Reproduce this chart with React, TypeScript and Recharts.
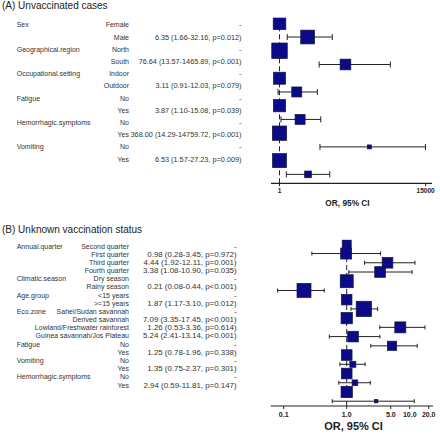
import { ScatterChart, Scatter, XAxis, YAxis, ZAxis, ErrorBar, ReferenceLine } from 'recharts'

// (A) Unvaccinated cases
const aGroups = ['Sex', '', 'Geographical.region', '', 'Occupational.setting', '', 'Fatigue', '', 'Hemorrhagic.symptoms', '', 'Vomiting', '']
const aLevels = ['Female', 'Male', 'North', 'South', 'Indoor', 'Outdoor', 'No', 'Yes', 'No', 'Yes', 'No', 'Yes']
const aOR = [1, 6.35, 1, 76.64, 1, 3.11, 1, 3.87, 1, 368.0, 1, 6.53]
const aLo = [null, 1.66, null, 13.57, null, 0.91, null, 1.1, null, 14.29, null, 1.57]
const aHi = [null, 32.16, null, 1465.89, null, 12.03, null, 15.08, null, 14759.72, null, 27.23]
const aP = [null, '0.012', null, '<0.001', null, '0.079', null, '0.039', null, '<0.001', null, '0.009']
const aWeight = [160, 190, 240, 115, 144, 100, 150, 100, 205, 16, 196, 45]
const aTicks = [1, 15000]

// (B) Unknown vaccination status
const bGroups = ['Annual.quarter', '', '', '', 'Climatic.season', '', 'Age.group', '', 'Eco.zone', '', '', '', 'Fatigue', '', 'Vomiting', '', 'Hemorrhagic.symptoms', '']
const bLevels = ['Second quarter', 'First quarter', 'Third quarter', 'Fourth quarter', 'Dry season', 'Rainy season', '<15 years', '>=15 years',
  'Sahel/Sudan savannah', 'Derived savannah', 'Lowland/Freshwater rainforest', 'Guinea savannah/Jos Plateau', 'No', 'Yes', 'No', 'Yes', 'No', 'Yes']
const bOR = [1, 0.98, 4.44, 3.38, 1, 0.21, 1, 1.87, 1, 7.09, 1.26, 5.24, 1, 1.25, 1, 1.35, 1, 2.94]
const bLo = [null, 0.28, 1.92, 1.08, null, 0.08, null, 1.17, null, 3.35, 0.53, 2.41, null, 0.78, null, 0.75, null, 0.59]
const bHi = [null, 3.45, 12.11, 10.9, null, 0.44, null, 3.1, null, 17.45, 3.36, 13.14, null, 1.96, null, 2.37, null, 11.81]
const bP = [null, '0.972', '0.001', '0.035', null, '<0.001', null, '0.012', null, '<0.001', '0.614', '<0.001', null, '0.338', null, '0.301', null, '0.147']
const bWeight = [81, 121, 114, 114, 169, 196, 110, 234, 128, 121, 114, 86, 114, 36, 114, 32, 128, 11]
const bTicks = [0.1, 1, 5, 10, 20]

const FONT = '"Liberation Sans", Arial, sans-serif'
const INK = '#222'
const TXT = '#333'

function buildRows(or: number[], lo: (number | null)[], hi: (number | null)[], w: number[]) {
  return or.map((v, i) => ({
    row: i,
    or: v,
    err: lo[i] == null ? null : [v - (lo[i] as number), (hi[i] as number) - v],
    w: w[i],
  }))
}

function fmtCell(or: number, lo: number | null, hi: number | null, p: string | null) {
  if (lo == null || hi == null || p == null) return '-'
  const pTxt = p.startsWith('<') ? `p${p}` : `p=${p}`
  return `${or.toFixed(2)} (${lo.toFixed(2)}-${hi.toFixed(2)}, ${pTxt})`
}

function Box(props: any) {
  const { cx, cy } = props
  const s = props.width ?? Math.sqrt(props.payload.w)
  return <rect x={cx - s / 2} y={cy - s / 2} width={s} height={s} fill="#0B0B8A" stroke="#15153a" strokeWidth={0.7} />
}

interface ForestProps {
  rows: ReturnType<typeof buildRows>
  top: number
  height: number
  margin: { top: number; right: number; bottom: number; left: number }
  xDomain: [number, number]
  yDomain: [number, number]
  ticks: number[]
  tickFormat: (v: number) => string
  tickFont: number
  tickMargin: number
  capWidth: number
}

function Forest({ rows, top, height, margin, xDomain, yDomain, ticks, tickFormat, tickFont, tickMargin, capWidth }: ForestProps) {
  return (
    <div style={{ position: 'absolute', left: 0, top, width: 440, height }}>
      <ScatterChart width={440} height={height} margin={margin}>
        <XAxis type="number" dataKey="or" scale="log" domain={xDomain} allowDataOverflow ticks={ticks} interval={0}
          tickFormatter={tickFormat} height={14} tickSize={3} tickMargin={tickMargin}
          axisLine={{ stroke: INK, strokeWidth: 1.2 }} tickLine={{ stroke: INK }}
          tick={{ fontSize: tickFont, fontWeight: 700, fill: INK, fontFamily: FONT }} />
        <YAxis type="number" dataKey="row" domain={yDomain} reversed hide allowDataOverflow />
        <ZAxis type="number" dataKey="w" domain={[0, 256]} range={[0, 64 * Math.PI]} />
        <ReferenceLine x={1} stroke={INK} strokeWidth={1} strokeDasharray="5 3" />
        <Scatter data={rows} shape={<Box />} isAnimationActive={false}>
          <ErrorBar dataKey="err" direction="x" width={capWidth} stroke={INK} strokeWidth={1} />
        </Scatter>
      </ScatterChart>
    </div>
  )
}

function Table({ groups, levels, or, lo, hi, p, y0, step, valueX, valueFont }: {
  groups: string[]; levels: string[]; or: number[]; lo: (number | null)[]; hi: (number | null)[]; p: (string | null)[]
  y0: number; step: number; valueX: number; valueFont: number
}) {
  return (
    <g fill={TXT} fontFamily={FONT} dominantBaseline="central">
      {levels.map((lvl, i) => {
        const y = y0 + i * step
        return (
          <g key={i}>
            {groups[i] && <text x={16.7} y={y} fontSize={7}>{groups[i]}</text>}
            <text x={129} y={y} fontSize={7} textAnchor="end">{lvl}</text>
            <text x={valueX} y={y} fontSize={valueFont} textAnchor="end">{fmtCell(or[i], lo[i], hi[i], p[i])}</text>
          </g>
        )
      })}
    </g>
  )
}

export default function App() {
  const rowsA = buildRows(aOR, aLo, aHi, aWeight)
  const rowsB = buildRows(bOR, bLo, bHi, bWeight)
  return (
    <div style={{ position: 'absolute', left: 0, top: 0, width: 440, height: 434, background: '#fff', fontFamily: FONT }}>
      <Forest rows={rowsA} top={0} height={200} margin={{ top: 17.8, right: 8, bottom: 2.7, left: 271 }}
        xDomain={[0.571, 22760]} yDomain={[-0.4, 11.65]} ticks={aTicks} tickFormat={(v) => String(v)}
        tickFont={6.5} tickMargin={2.5} capWidth={3} />
      <Forest rows={rowsB} top={230} height={194} margin={{ top: 9.7, right: 7, bottom: 4, left: 270.7 }}
        xDomain={[0.0622, 23.4]} yDomain={[-0.5, 17.52]} ticks={bTicks} tickFormat={(v) => v.toFixed(1)}
        tickFont={7} tickMargin={3.5} capWidth={2} />
      <svg width={440} height={434} style={{ position: 'absolute', left: 0, top: 0, pointerEvents: 'none' }}>
        <text x={2} y={5.7} fontSize={10} fill={INK} fontFamily={FONT} dominantBaseline="central">(A) Unvaccinated cases</text>
        <Table groups={aGroups} levels={aLevels} or={aOR} lo={aLo} hi={aHi} p={aP} y0={24.8} step={12.2} valueX={241.5} valueFont={7.3} />
        <text x={347.5} y={203.3} fontSize={8.3} fontWeight={700} fill={INK} fontFamily={FONT} textAnchor="middle" dominantBaseline="central">OR, 95% CI</text>

        <text x={2} y={229.3} fontSize={10} fill={INK} fontFamily={FONT} dominantBaseline="central">(B) Unknown vaccination status</text>
        <Table groups={bGroups} levels={bLevels} or={bOR} lo={bLo} hi={bHi} p={bP} y0={246} step={8.18} valueX={236.6} valueFont={7.9} />
        <text x={353.5} y={426} fontSize={11} fontWeight={700} fill={INK} fontFamily={FONT} textAnchor="middle" dominantBaseline="central">OR, 95% CI</text>
      </svg>
    </div>
  )
}
